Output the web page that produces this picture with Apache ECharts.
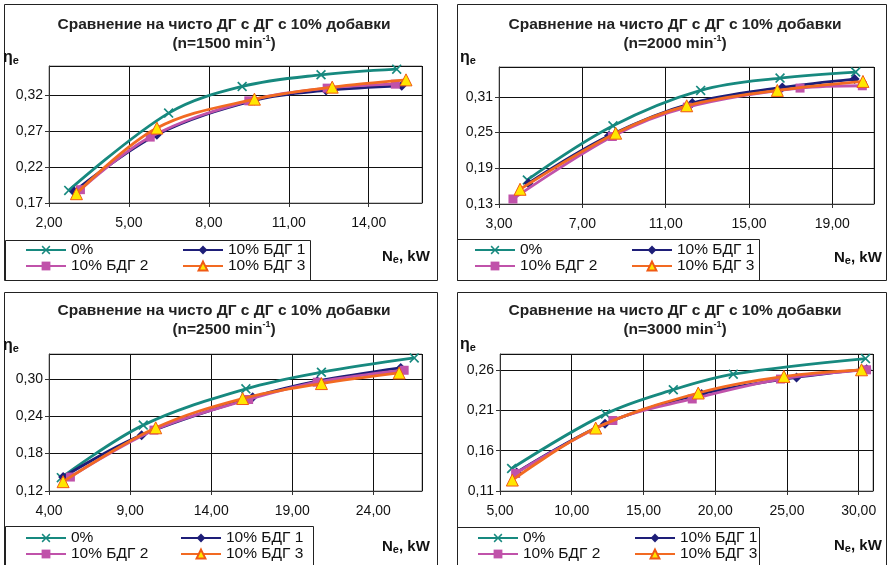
<!DOCTYPE html>
<html>
<head>
<meta charset="utf-8">
<script src="https://cdn.jsdelivr.net/npm/echarts@6/dist/echarts.min.js"></script>
<style>
  html, body { margin: 0; padding: 0; background: #fff; }
  #chart { width: 888px; height: 565px; }
</style>
</head>
<body>
<div id="chart"></div>
<script>
// Effective efficiency η_e versus effective power N_e (kW), pure diesel vs 10% additives
const seriesNames = ['0%', '10% БДГ 1', '10% БДГ 2', '10% БДГ 3'];
const speeds = ['1500', '2000', '2500', '3000'];

// n = 1500 min-1
const n1500_pure = [[2.74, 0.1875], [6.49, 0.2947], [9.25, 0.3316], [12.21, 0.3478], [15.05, 0.3556]];
const n1500_bdg1 = [[2.95, 0.1860], [6.05, 0.2647], [9.71, 0.3122], [12.40, 0.3261], [15.24, 0.3325]];
const n1500_bdg2 = [[3.18, 0.1885], [5.80, 0.2614], [9.50, 0.3117], [12.44, 0.3293], [15.00, 0.3348]];
const n1500_bdg3 = [[3.03, 0.1829], [6.05, 0.2739], [9.71, 0.3140], [12.63, 0.3307], [15.40, 0.3408]];

// n = 2000 min-1
const n2000_pure = [[4.36, 0.1704], [8.47, 0.2612], [12.68, 0.3207], [16.49, 0.3414], [20.12, 0.3515]];
const n2000_bdg1 = [[4.41, 0.1648], [8.28, 0.2444], [12.28, 0.2994], [16.60, 0.3257], [20.07, 0.3398]];
const n2000_bdg2 = [[3.67, 0.1384], [8.44, 0.2433], [12.04, 0.2926], [17.45, 0.3246], [20.44, 0.3285]];
const n2000_bdg3 = [[4.01, 0.1547], [8.60, 0.2489], [12.01, 0.2949], [16.36, 0.3207], [20.47, 0.3358]];

// n = 2500 min-1
const n2500_pure = [[4.76, 0.1414], [9.81, 0.2258], [16.14, 0.2840], [20.80, 0.3107], [26.52, 0.3337]];
const n2500_bdg1 = [[4.87, 0.1424], [9.71, 0.2097], [16.56, 0.2706], [20.54, 0.2963], [25.69, 0.3177]];
const n2500_bdg2 = [[5.32, 0.1424], [10.47, 0.2178], [16.31, 0.2669], [20.54, 0.2947], [25.90, 0.3139]];
const n2500_bdg3 = [[4.87, 0.1350], [10.58, 0.2215], [15.94, 0.2685], [20.80, 0.2925], [25.59, 0.3096]];

// n = 3000 min-1
const n3000_pure = [[5.81, 0.1379], [12.36, 0.2057], [17.08, 0.2357], [21.26, 0.2550], [30.48, 0.2743]];
const n3000_bdg1 = [[6.16, 0.1330], [12.32, 0.1934], [19.05, 0.2304], [25.67, 0.2509], [30.55, 0.2612]];
const n3000_bdg2 = [[6.09, 0.1318], [12.87, 0.1975], [18.40, 0.2242], [24.55, 0.2489], [30.55, 0.2604]];
const n3000_bdg3 = [[5.86, 0.1236], [11.67, 0.1881], [18.82, 0.2316], [24.79, 0.2522], [30.20, 0.2604]];

// axis scales: [min, max, step]
const xScale1500 = [2, 16, 3];
const yScale1500 = [0.17, 0.36, 0.05];
const xScale2000 = [3, 21, 4];
const yScale2000 = [0.13, 0.36, 0.06];
const xScale2500 = [4, 27, 5];
const yScale2500 = [0.12, 0.34, 0.06];
const xScale3000 = [5, 31, 5];
const yScale3000 = [0.11, 0.28, 0.05];

const panelData = [
  [n1500_pure, n1500_bdg1, n1500_bdg2, n1500_bdg3],
  [n2000_pure, n2000_bdg1, n2000_bdg2, n2000_bdg3],
  [n2500_pure, n2500_bdg1, n2500_bdg2, n2500_bdg3],
  [n3000_pure, n3000_bdg1, n3000_bdg2, n3000_bdg3]
];
const xScales = [xScale1500, xScale2000, xScale2500, xScale3000];
const yScales = [yScale1500, yScale2000, yScale2500, yScale3000];

const FONT = '"Liberation Sans", Arial, sans-serif';
const TITLE_TEXT = 'Сравнение на чисто ДГ с ДГ с 10% добавки';

// panel layout
const frames = [
  { x: 4,   y: 4,   w: 433, h: 276 },
  { x: 457, y: 4,   w: 429, h: 276 },
  { x: 4,   y: 292, w: 433, h: 273 },
  { x: 457, y: 292, w: 429, h: 273 }
];
const grids = [
  { left: 49,  top: 66,  width: 373, height: 137 },
  { left: 499, top: 67,  width: 375, height: 137 },
  { left: 49,  top: 354, width: 373, height: 137 },
  { left: 500, top: 354, width: 373, height: 137 }
];
const legendBoxes = [
  { x: 5,   y: 240, w: 305, h: 40 },
  { x: 457, y: 239, w: 302, h: 41 },
  { x: 5,   y: 526, w: 308, h: 39 },
  { x: 457, y: 527, w: 302, h: 38 }
];
const legendCols = [
  [25, 182], [474, 631], [25, 180], [477, 634]
];
const legendTop = [242, 242, 530, 530];
const titleCenter = [224, 675, 224, 675];
const titleTop = [15, 15, 301, 301];
const etaPos = [[3, 58], [460, 58], [3, 346], [460, 345]];
const nePos = [[382, 257], [834, 258], [382, 547], [834, 546]];

const COLORS = ['#17897F', '#1E1E78', '#C052AA', '#F26A22'];
const crossPath = 'path://M0,1.2 L1.2,0 L5,3.8 L8.8,0 L10,1.2 L6.2,5 L10,8.8 L8.8,10 L5,6.2 L1.2,10 L0,8.8 L3.8,5 Z';
const symbolStyles = [
  { symbol: crossPath, symbolSize: 10, itemStyle: { color: COLORS[0] } },
  { symbol: 'diamond', symbolSize: 10, itemStyle: { color: COLORS[1] } },
  { symbol: 'rect', symbolSize: 9, itemStyle: { color: COLORS[2] } },
  { symbol: 'triangle', symbolSize: 12, itemStyle: { color: '#FFE600', borderColor: '#F05A14', borderWidth: 1 } }
];

const fmt = v => v.toFixed(2).replace('.', ',');

const option = {
  animation: false,
  backgroundColor: '#ffffff',
  title: [],
  grid: [],
  xAxis: [],
  yAxis: [],
  legend: [],
  series: [],
  graphic: []
};

for (let i = 0; i < 4; i++) {
  const g = grids[i];
  option.grid.push({
    left: g.left, top: g.top, width: g.width, height: g.height,
    show: true, borderColor: '#8c8c8c', borderWidth: 1, backgroundColor: 'transparent'
  });
  option.title.push({
    text: TITLE_TEXT + '\n(n=' + speeds[i] + ' min{sup|-1})',
    left: titleCenter[i], top: titleTop[i], textAlign: 'center', padding: 0,
    textStyle: {
      fontFamily: FONT, fontSize: 15.5, fontWeight: 'bold', color: '#222', lineHeight: 19,
      rich: { sup: { fontFamily: FONT, fontSize: 9, fontWeight: 'bold', color: '#222', verticalAlign: 'top', lineHeight: 19 } }
    }
  });
  const xs = xScales[i], ys = yScales[i];
  option.xAxis.push({
    type: 'value', gridIndex: i, min: xs[0], max: xs[1], interval: xs[2],
    axisLine: { show: true, onZero: false, lineStyle: { color: '#333', width: 1 } },
    axisTick: { show: true, inside: false, length: 4, lineStyle: { color: '#333' } },
    axisLabel: { formatter: fmt, fontFamily: FONT, fontSize: 14, color: '#111', margin: 13, showMaxLabel: false },
    splitLine: { show: true, lineStyle: { color: '#111', width: 1 } }
  });
  option.yAxis.push({
    type: 'value', gridIndex: i, min: ys[0], max: ys[1], interval: ys[2],
    axisLine: { show: true, onZero: false, lineStyle: { color: '#333', width: 1 } },
    axisTick: { show: true, inside: false, length: 4, lineStyle: { color: '#333' } },
    axisLabel: { formatter: fmt, fontFamily: FONT, fontSize: 14, color: '#111', margin: 6, showMaxLabel: false },
    splitLine: { show: true, lineStyle: { color: '#111', width: 1 } }
  });
  for (let s = 0; s < 4; s++) {
    option.series.push(Object.assign({
      type: 'line', name: seriesNames[s], xAxisIndex: i, yAxisIndex: i,
      data: panelData[i][s], smooth: 0.35, showSymbol: true,
      lineStyle: { color: COLORS[s], width: 2.8 },
      z: 3 + s
    }, symbolStyles[s]));
  }
  // two legend columns per panel
  const legCommon = {
    orient: 'vertical', top: legendTop[i], itemWidth: 40, itemHeight: 11, itemGap: 0,
    selectedMode: false, padding: 0,
    textStyle: { fontFamily: FONT, fontSize: 15.5, color: '#111', lineHeight: 15 }
  };
  option.legend.push(Object.assign({ left: legendCols[i][0], data: [seriesNames[0], seriesNames[2]] }, legCommon));
  option.legend.push(Object.assign({ left: legendCols[i][1], data: [seriesNames[1], seriesNames[3]] }, legCommon));

  const f = frames[i], lb = legendBoxes[i];
  option.graphic.push({
    type: 'rect', shape: { x: f.x + 0.5, y: f.y + 0.5, width: f.w, height: f.h },
    style: { fill: 'none', stroke: '#222', lineWidth: 1 }, silent: true, z: 0
  });
  option.graphic.push({
    type: 'rect', shape: { x: lb.x + 0.5, y: lb.y + 0.5, width: lb.w, height: lb.h },
    style: { fill: 'none', stroke: '#222', lineWidth: 1 }, silent: true, z: 0
  });
  option.graphic.push({
    type: 'text', x: etaPos[i][0], y: etaPos[i][1],
    style: {
      text: 'η{sub|e}', fill: '#111', font: 'bold 16px ' + FONT, textVerticalAlign: 'middle',
      rich: { sub: { fontFamily: FONT, fontSize: 11, fontWeight: 'bold', fill: '#111', padding: [6, 0, 0, 0] } }
    }, silent: true
  });
  option.graphic.push({
    type: 'text', x: nePos[i][0], y: nePos[i][1],
    style: {
      text: 'N{sub|e}, kW', fill: '#111', font: 'bold 15px ' + FONT, textVerticalAlign: 'middle',
      rich: { sub: { fontFamily: FONT, fontSize: 11, fontWeight: 'bold', fill: '#111', padding: [6, 0, 0, 0] } }
    }, silent: true
  });
}

const chart = echarts.init(document.getElementById('chart'), null, { renderer: 'canvas' });
chart.setOption(option);
</script>
</body>
</html>
